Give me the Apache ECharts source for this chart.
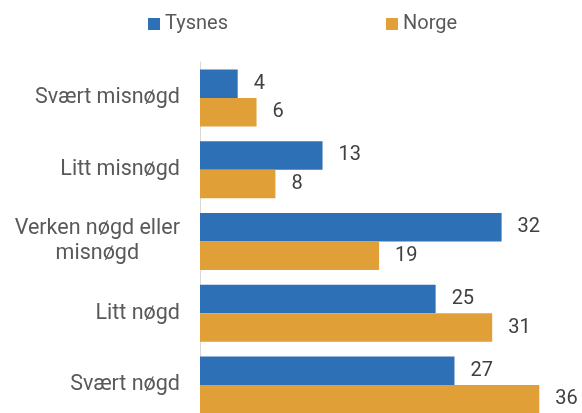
<!DOCTYPE html>
<html>
<head>
<meta charset="utf-8">
<script src="https://cdn.jsdelivr.net/npm/echarts@6/dist/echarts.min.js"></script>
<style>
  html, body { margin: 0; padding: 0; background: #ffffff; overflow: hidden; }
  /* the plot runs past the bottom edge of the window, so the canvas is taller */
  #chart { width: 582px; height: 425px; }
</style>
</head>
<body>
<div id="chart"></div>
<script>
// Satisfaction categories, top to bottom
const categories = [
  'Svært misnøgd',
  'Litt misnøgd',
  'Verken nøgd eller\nmisnøgd',
  'Litt nøgd',
  'Svært nøgd'
];
// Share of respondents (%)
const tysnes = [4, 13, 32, 25, 27];
const norge = [6, 8, 19, 31, 36];
const seriesNames = ['Tysnes', 'Norge'];

const FONT = 'Roboto';
const catFontSize = 21.5;

// Width of the longest line so wrapped labels can be centred line by line
const ctx = document.createElement('canvas').getContext('2d');
ctx.font = catFontSize + 'px ' + FONT;
function blockWidth(label) {
  return Math.max.apply(null, label.split('\n').map(l => ctx.measureText(l).width));
}

const chart = echarts.init(document.getElementById('chart'), null, { renderer: 'canvas' });

const valueLabel = {
  show: true,
  position: 'right',
  distance: 16,
  fontFamily: FONT,
  fontSize: 20,
  color: '#404040'
};

chart.setOption({
  animation: false,
  textStyle: { fontFamily: FONT },
  legend: {
    data: seriesNames,
    left: 143,
    top: 9,
    itemWidth: 12,
    itemHeight: 12,
    itemGap: 158,
    icon: 'rect',
    textStyle: { fontFamily: FONT, fontSize: 20, color: '#595959', padding: [0, 0, 0, 0] }
  },
  grid: { left: 200, top: 62, height: 359, right: 5, containLabel: false },
  xAxis: {
    type: 'value',
    min: 0,
    max: 40,
    show: false,
    splitLine: { show: false }
  },
  yAxis: {
    type: 'category',
    data: categories,
    inverse: true,
    axisLine: { show: true, lineStyle: { color: '#d9d9d9', width: 1 } },
    axisTick: { show: false },
    axisLabel: {
      margin: 20,
      fontFamily: FONT,
      fontSize: catFontSize,
      color: '#595959',
      lineHeight: 25,
      formatter: function (value) {
        if (value.indexOf('\n') < 0) return value;
        return value.split('\n').map(l => '{c|' + l + '}').join('\n');
      },
      rich: {
        c: {
          fontFamily: FONT,
          fontSize: catFontSize,
          color: '#595959',
          lineHeight: 25,
          align: 'center',
          width: blockWidth(categories[2])
        }
      }
    }
  },
  series: [
    {
      name: seriesNames[0],
      type: 'bar',
      data: tysnes,
      barWidth: 28.5,
      barGap: 0,
      itemStyle: { color: '#2e70b6' },
      label: valueLabel
    },
    {
      name: seriesNames[1],
      type: 'bar',
      data: norge,
      barWidth: 28.5,
      barGap: 0,
      itemStyle: { color: '#e0a037' },
      label: valueLabel
    }
  ]
});
</script>
</body>
</html>
